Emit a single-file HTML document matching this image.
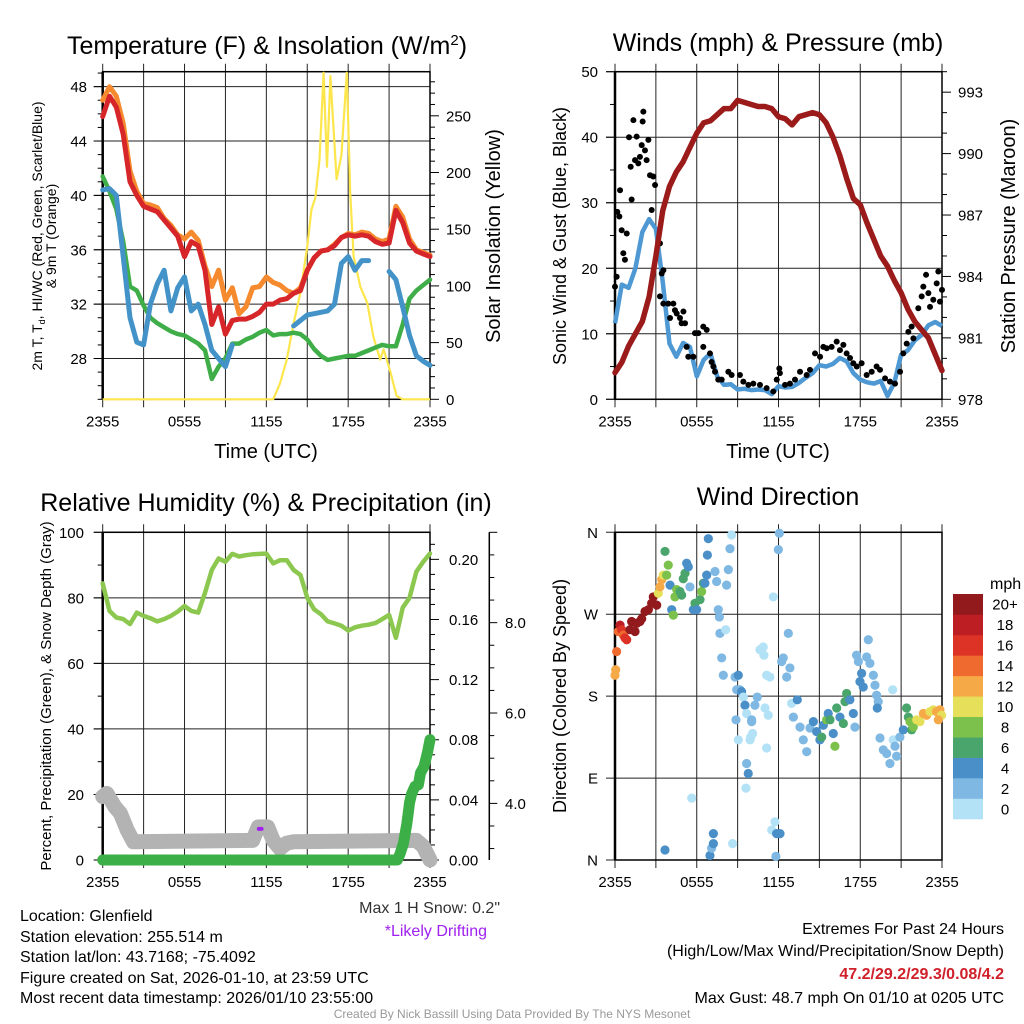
<!DOCTYPE html>
<html><head><meta charset="utf-8"><style>
html,body{margin:0;padding:0;background:#fff;}
svg{display:block;font-family:"Liberation Sans",sans-serif;}
</style></head><body>
<svg id="chart" width="1024" height="1024" viewBox="0 0 1024 1024" xmlns="http://www.w3.org/2000/svg">
<rect x="0" y="0" width="1024" height="1024" fill="#fff"/>
<g id="layer"></g>
<!-- titles -->
<text x="267" y="54" font-size="25" text-anchor="middle">Temperature (F) &amp; Insolation (W/m<tspan dy="-9" font-size="15">2</tspan><tspan dy="9">)</tspan></text>
<text x="778" y="51" font-size="25" text-anchor="middle">Winds (mph) &amp; Pressure (mb)</text>
<text x="266" y="511" font-size="25" text-anchor="middle">Relative Humidity (%) &amp; Precipitation (in)</text>
<text x="778" y="505" font-size="25" text-anchor="middle">Wind Direction</text>
<!-- axis titles -->
<text x="266" y="458" font-size="20" text-anchor="middle">Time (UTC)</text>
<text x="778" y="458" font-size="20" text-anchor="middle">Time (UTC)</text>
<text transform="translate(42,236) rotate(-90)" font-size="14" text-anchor="middle">2m T, T<tspan dy="3" font-size="9">d</tspan><tspan dy="-3">, HI/WC (Red, Green, Scarlet/Blue)</tspan></text>
<text transform="translate(56,236) rotate(-90)" font-size="14" text-anchor="middle">&amp; 9m T (Orange)</text>
<text transform="translate(500,236) rotate(-90)" font-size="20" text-anchor="middle">Solar Insolation (Yellow)</text>
<text transform="translate(566,236) rotate(-90)" font-size="18" text-anchor="middle">Sonic Wind &amp; Gust (Blue, Black)</text>
<text transform="translate(1015,236) rotate(-90)" font-size="20" text-anchor="middle">Station Pressure (Maroon)</text>
<text transform="translate(51,696) rotate(-90)" font-size="15" text-anchor="middle">Percent, Precipitation (Green), &amp; Snow Depth (Gray)</text>
<text transform="translate(566,696) rotate(-90)" font-size="18" text-anchor="middle">Direction (Colored By Speed)</text>
<text x="990" y="589" font-size="16">mph</text>
<!-- footer texts -->
<g font-size="16" fill="#000">
<text x="20" y="921">Location: Glenfield</text>
<text x="20" y="942">Station elevation: 255.514 m</text>
<text x="20" y="962">Station lat/lon: 43.7168; -75.4092</text>
<text x="20" y="983">Figure created on Sat, 2026-01-10, at 23:59 UTC</text>
<text x="20" y="1003">Most recent data timestamp: 2026/01/10 23:55:00</text>
<text x="500" y="913" text-anchor="end" fill="#333">Max 1 H Snow: 0.2"</text>
<text x="487" y="936" text-anchor="end" fill="#a020f0">*Likely Drifting</text>
<text x="1004" y="934" text-anchor="end">Extremes For Past 24 Hours</text>
<text x="1004" y="956" text-anchor="end">(High/Low/Max Wind/Precipitation/Snow Depth)</text>
<text x="1004" y="979" text-anchor="end" fill="#d0202a" font-weight="bold">47.2/29.2/29.3/0.08/4.2</text>
<text x="1004" y="1003" text-anchor="end">Max Gust: 48.7 mph On 01/10 at 0205 UTC</text>
</g>
<text x="512" y="1018" font-size="12" text-anchor="middle" fill="#999">Created By Nick Bassill Using Data Provided By The NYS Mesonet</text>
</svg>
<script>
// ---- data ----
const timeLabels = ["2355","0555","1155","1755","2355"];
const halfHours = Array.from({length:49},(_,i)=>i*0.5);
const tempRed = [45.8,47.3,46.5,44.5,41.0,40.0,39.2,39.0,38.8,38.2,37.6,37.0,35.5,36.6,36.3,34.5,30.5,31.8,29.8,30.8,30.9,30.9,31.1,31.4,32.0,32.0,32.3,32.4,32.8,33.0,34.5,35.4,35.9,36.0,36.3,36.9,37.1,37.0,37.1,37.0,36.6,36.4,36.5,38.9,38.0,36.5,35.9,35.7,35.5];
const tempOrange = [47.0,48.0,47.3,45.3,41.8,40.3,39.4,39.3,39.1,38.3,37.8,37.1,36.8,37.3,36.7,34.8,33.3,34.5,32.3,33.2,31.3,31.8,33.2,33.3,34.0,33.6,33.4,33.0,32.8,33.2,34.5,35.4,35.9,36.0,36.4,36.9,37.2,37.1,37.3,37.2,36.8,36.6,36.8,39.2,38.4,36.8,36.0,35.8,35.6];
const dewGreen = [41.4,40.3,39.0,36.6,33.3,33.0,31.9,31.0,30.6,30.3,30.0,29.8,29.7,29.4,29.1,28.6,26.5,27.4,28.0,29.1,29.1,29.4,29.6,29.9,30.1,29.7,29.8,29.8,29.9,29.8,29.4,28.7,28.2,27.9,28.0,28.1,28.2,28.2,28.4,28.6,28.8,29.0,28.9,28.9,30.5,32.4,33.0,33.4,33.8];
const windChillBlue = [40.4,40.5,40.0,35.5,31.0,29.2,29.0,32.0,33.5,34.5,31.5,33.2,34.0,31.5,32.0,30.5,28.6,28.0,27.4,29.0,null,null,null,null,null,null,null,null,30.4,30.8,31.2,31.3,31.4,31.5,32.0,35.0,35.5,34.5,35.2,35.2,null,null,34.4,33.8,31.8,29.7,28.2,27.8,27.5];
const solarHours = [0,12.5,13.0,13.5,14.0,14.5,15.0,15.3,15.6,15.9,16.2,16.45,16.7,17.15,17.5,17.9,18.15,18.4,18.9,19.4,19.85,20.35,20.6,21.05,21.55,22,24];
const solarValues = [0,0,14,35,67,94,135,167,178,211,288,205,285,194,215,288,182,126,99,85,55,35,44,26,3,0,0];
const pressure = [979.3,979.8,980.6,981.2,981.8,983.0,985.0,987.2,988.4,989.1,989.6,990.3,991.0,991.5,991.6,991.9,992.2,992.2,992.6,992.5,992.4,992.3,992.3,992.2,991.8,991.7,991.4,991.8,991.9,992.0,991.9,991.5,990.8,989.9,988.8,987.8,987.5,986.6,985.8,985.0,984.5,983.8,983.2,982.4,981.8,981.4,981.0,980.2,979.4];
const windSpeed = [11.6,17.5,17.0,20.0,25.5,27.5,26.0,18.0,8.5,6.5,8.6,8.0,3.5,6.0,7.0,3.5,2.2,2.3,1.5,1.6,1.4,1.5,1.4,0.8,2.0,1.8,1.9,2.5,3.3,4.0,5.2,5.0,5.4,6.3,5.8,4.0,3.0,2.6,2.4,2.8,0.5,2.5,6.8,7.5,9.0,9.8,11.3,11.8,11.2];
const gustHours = [0,0.12,0.17,0.32,0.37,0.49,0.61,0.73,0.86,1.03,1.15,1.22,1.35,1.47,1.59,1.71,1.83,1.96,2.03,2.08,2.2,2.32,2.45,2.57,2.81,2.94,2.69,3.3,3.43,3.55,3.3,3.55,3.91,4.04,4.28,4.4,4.53,4.77,4.89,5.02,5.14,5.26,5.38,5.75,5.87,6.12,6.48,6.73,6.48,6.97,7.09,7.22,7.34,7.58,7.83,8.32,8.56,9.17,9.42,9.79,10.15,10.64,11.13,11.62,11.87,12.06,12.1,12.48,12.84,13.21,13.58,14.07,14.31,14.68,15.05,15.29,15.54,15.9,16.27,16.51,16.76,17,17.25,17.49,17.74,18.1,18.47,18.84,19.2,19.45,19.82,20.18,20.55,20.92,21.16,21.41,21.53,21.77,21.9,22.26,22.51,22.63,22.83,23,23.12,23.36,23.61,23.73,23.85,24];
const gustValues = [17.2,18.7,28.6,27.9,31.9,25.8,22.3,21.3,25.3,40,35.5,30.5,42.6,36.5,40.1,36,37,38.8,42.4,43.9,38,36.5,39.6,34.2,34,32.7,28.9,23.8,19.2,19.7,15.7,14.6,14.6,12.4,14.6,13.6,13.1,12.4,11.6,13.4,11.6,8,6.5,6.5,10.1,10.1,11.1,10.6,8,7,5.7,5,4.2,3,3,4.2,3.7,3.7,2.7,2.2,2.4,2.2,1.7,1.2,3,4.7,4,2.2,2.4,3,4.2,3.7,4.5,7,6.5,8,7.8,8,8.8,7.5,8.3,7,6.3,5.5,5,5.5,3.7,4.2,5,4.5,3.2,2.7,2.4,4.2,7,8.5,10.3,11.1,9.3,13.9,15.7,17.2,19,16.2,14.1,15.2,17.7,19.5,14.9,16.7];
const rhValues = [84.4,76.0,74.0,73.5,72.0,75.5,74.5,73.8,72.8,73.5,74.5,75.8,77.5,76.0,75.5,81.5,88.5,92.0,91.0,93.4,92.6,93.0,93.3,93.4,93.5,90.5,91.5,91.5,88.5,87.0,80.0,76.5,75.0,72.8,72.2,71.5,70.0,71.0,71.5,71.8,72.3,73.5,74.8,67.8,77.0,80.0,88.0,91.0,93.5];
const precipHours = [0,21.6,21.8,22.05,22.3,22.4,22.5,22.65,22.9,23.15,23.3,23.55,23.8,24];
const precipValues = [0,0,0.004,0.011,0.024,0.031,0.038,0.044,0.049,0.05,0.058,0.062,0.071,0.08];
const snowHours = [0,0.3,0.9,1.3,1.8,2.25,11.0,11.4,12.1,12.5,13.0,13.5,14.0,23.0,23.5,23.75,24];
const snowValues = [4.15,4.22,3.92,3.78,3.41,3.15,3.18,3.48,3.48,3.18,3.0,3.12,3.15,3.18,3.05,2.9,2.75];
const driftHours = [11.45,11.65];
const driftValues = [9.5,9.5];
const dirHours = [0,0.05,0.12,0.24,0.37,0.49,0.61,0.73,0.86,1.10,1.22,1.47,1.59,1.83,1.96,2.20,2.45,2.69,2.81,3.06,3.18,3.30,3.43,3.55,3.67,3.79,3.91,4.04,4.16,4.28,4.40,4.53,4.77,4.89,5.01,5.14,5.26,5.38,5.50,5.75,5.87,5.99,6.24,6.36,6.48,6.60,6.73,6.78,6.85,7.34,7.46,7.58,7.66,7.70,7.83,7.95,8.12,8.19,8.32,8.44,8.56,8.81,9.05,8.93,9.17,9.29,9.42,9.54,9.66,10.03,10.27,10.44,10.64,10.88,10.93,11.13,11.37,11.62,11.99,12.06,12.23,12.35,12.60,12.84,12.72,12.96,13.09,13.38,13.58,13.82,14.07,14.31,14.56,14.80,15.04,15.17,15.29,15.53,15.65,15.78,16.02,16.14,16.27,16.51,16.76,16.88,17.00,17.24,17.49,17.61,17.73,17.86,17.98,18.10,18.22,18.47,18.59,18.71,18.96,19.08,19.20,19.32,19.25,19.45,19.69,19.94,20.18,20.38,20.42,20.55,20.67,20.91,21.16,21.40,21.53,21.65,21.77,21.89,22.14,22.38,22.63,22.87,23.12,23.36,23.60,23.85,23.97,23.73,3.67,5.63,6.97,7.09,7.22,7.22,8.63,9.66,9.78,9.61,11.13,11.74,11.50,11.86,12.11,11.81,8.88,9.05,9.96,10.10,11.01,11.25,9.91,10.03];
const dirDegrees = [203,209,229,251,258,253,247,244,242,253,262,251,260,262,265,273,275,282,289,280,293,300,308,313,339,313,324,302,275,269,289,297,295,291,309,315,326,322,300,275,282,275,286,295,304,304,313,335,353,317,306,275,267,249,222,203,253,302,319,342,357,201,203,187,187,185,179,170,161,154,170,179,231,234,225,203,201,289,341,359,218,222,201,211,249,172,157,176,146,132,119,145,152,141,132,135,148,154,161,154,139,125,167,157,150,174,183,176,161,146,225,218,196,205,190,223,242,216,203,192,181,174,167,134,121,117,106,187,132,125,114,135,143,167,157,152,143,146,154,152,161,159,163,165,163,165,159,154,11,68,5,13,18,29,18,106,95,79,123,42,33,29,29,4,154,132,135,139,167,159,132,152];
const dirSpeedBins = [6,6,7,7,9,8,7,8,8,10,10,10,10,10,10,10,10,10,10,10,5,6,6,5,3,4,4,2,2,4,4,4,3,3,3,3,2,2,1,2,3,2,3,4,3,2,2,2,2,1,1,1,1,1,1,1,0,1,1,1,0,1,2,1,1,2,0,2,0,1,1,1,0,0,0,0,0,0,1,1,1,1,1,1,1,0,1,2,1,1,1,1,2,2,2,3,2,4,2,3,2,4,3,2,3,3,3,2,2,1,1,1,2,2,2,1,1,1,1,1,1,1,2,1,1,1,1,0,0,1,1,1,2,3,3,4,3,4,5,5,6,6,5,5,6,6,5,6,2,0,2,1,2,2,0,1,2,0,0,0,0,2,2,1,1,0,0,0,0,0,0,1];
const speedColors = ["#b3e2f7","#7fb9e3","#4a8fc7","#4aa56c","#7cc14b","#e5df5a","#f6a947","#ef6a2e","#dd3327","#bd1e24","#921a1c"];
const speedLabels = ["0","2","4","6","8","10","12","14","16","18","20+"];
const dirLabels = ["N","E","S","W","N"];

// ---- helpers ----
const NS="http://www.w3.org/2000/svg";
const layer=document.getElementById('layer');
function mk(tag,attrs,parent){const e=document.createElementNS(NS,tag);for(const k in attrs)e.setAttribute(k,attrs[k]);(parent||layer).appendChild(e);return e;}
const P1={x0:102.7,x1:430,y0:71.7,y1:399.3};
const P2={x0:615,x1:942,y0:71.7,y1:399.3};
const P3={x0:102.7,x1:430,y0:532.3,y1:860};
const P4={x0:615,x1:942,y0:532.3,y1:860};
function xAt(p,h){return p.x0+(p.x1-p.x0)*h/24;}
function yAt(p,v,lo,hi){return p.y1-(v-lo)/(hi-lo)*(p.y1-p.y0);}
function linePath(p,hours,vals,lo,hi){let d="",pen=false;for(let i=0;i<vals.length;i++){if(vals[i]===null){pen=false;continue;}d+=(pen?"L":"M")+xAt(p,hours[i]).toFixed(1)+" "+yAt(p,vals[i],lo,hi).toFixed(1);pen=true;}return d;}

function frame(p,name,gridVals,lo,hi){
  const g=mk('g',{});
  
  
  for(let h=0;h<=24;h+=3){
    const x=xAt(p,h);
    const v=mk('line',{x1:x,x2:x,y1:p.y0-8,y2:p.y1+8,stroke:'#222','stroke-width':1},g);
    
    
  }
  gridVals.forEach(val=>{
    const y=yAt(p,val,lo,hi);
    const l=mk('line',{x1:p.x0-9,x2:p.x1,y1:y,y2:y,stroke:'#222','stroke-width':1},g);
    
    
  });
  const b=mk('rect',{x:p.x0,y:p.y0,width:p.x1-p.x0,height:p.y1-p.y0,fill:'none',stroke:'#000','stroke-width':1.5},g);
  
  
  const lb=mk('line',{x1:p.x0,x2:p.x0,y1:p.y0,y2:p.y1,stroke:'#000','stroke-width':2.5},g);
  
  
  timeLabels.forEach((t,i)=>{
    const tx=mk('text',{x:xAt(p,i*6),y:p.y1+27,'font-size':15,'text-anchor':'middle'},g);
    tx.textContent=t;
    
    
  });
}
function yTicks(p,name,side,lo,hi,major,minor,fmt,labelX,anchor){
  const g=mk('g',{});
  
  
  const ax=side==='left'?p.x0:p.x1, dir=side==='left'?-1:1;
  for(let v=Math.ceil(lo/minor)*minor;v<=hi+1e-9;v+=minor){
    const y=yAt(p,v,lo,hi);
    const isMaj=Math.abs(v/major-Math.round(v/major))<1e-6;
    const t=mk('line',{x1:ax,x2:ax+dir*(isMaj?9:5),y1:y,y2:y,stroke:'#000','stroke-width':1},g);
    
    
    if(isMaj&&fmt){
      const tx=mk('text',{x:labelX,y:y+5.5,'font-size':15,'text-anchor':anchor},g);
      tx.textContent=fmt(v);
      
      
    }
  }
}

// ---- panel 1 ----
frame(P1,'temperature',[28,32,36,40,44,48],25,49.1);
yTicks(P1,'temperature-left-ticks','left',25,49.1,4,1,v=>String(Math.round(v)),87,'end');
yTicks(P1,'solar-right-ticks','right',0,288.9,50,10,v=>String(Math.round(v)),446,'start');
const sol=mk('path',{d:linePath(P1,solarHours,solarValues,0,288.9),fill:'none',stroke:'#fde64b','stroke-width':2.2,'stroke-linejoin':'round'});


const or=mk('path',{d:linePath(P1,halfHours,tempOrange,25,49.1),fill:'none',stroke:'#f58a2f','stroke-width':5,'stroke-linejoin':'round','stroke-linecap':'round'});


const gr=mk('path',{d:linePath(P1,halfHours,dewGreen,25,49.1),fill:'none',stroke:'#3fae49','stroke-width':4.5,'stroke-linejoin':'round','stroke-linecap':'round'});


const bl=mk('path',{d:linePath(P1,halfHours,windChillBlue,25,49.1),fill:'none',stroke:'#4393c9','stroke-width':5,'stroke-linejoin':'round','stroke-linecap':'round'});


const rd=mk('path',{d:linePath(P1,halfHours,tempRed,25,49.1),fill:'none',stroke:'#d7262a','stroke-width':5,'stroke-linejoin':'round','stroke-linecap':'round'});



// ---- panel 2 ----
frame(P2,'winds',[0,10,20,30,40,50],0,50);
yTicks(P2,'wind-left-ticks','left',0,50,10,5,v=>String(Math.round(v)),598,'end');
yTicks(P2,'pressure-right-ticks','right',978,994,3,1,v=>String(Math.round(v)),958,'start');
const ws=mk('path',{d:linePath(P2,halfHours,windSpeed,0,50),fill:'none',stroke:'#4e98d3','stroke-width':4.5,'stroke-linejoin':'round'});


gustValues.forEach((v,i)=>{
  const c=mk('circle',{cx:xAt(P2,gustHours[i]),cy:yAt(P2,v,0,50),r:3,fill:'#000'});
  
  
});
const pr=mk('path',{d:linePath(P2,halfHours,pressure,978,994),fill:'none',stroke:'#9b1b1b','stroke-width':5.5,'stroke-linejoin':'round','stroke-linecap':'round'});



// ---- panel 3 ----
frame(P3,'humidity',[0,20,40,60,80,100],0,100);
yTicks(P3,'humidity-left-ticks','left',0,100,20,10,v=>String(Math.round(v)),84,'end');
yTicks(P3,'precip-right-ticks','right',0,0.218,0.04,0.01,v=>v.toFixed(2),449,'start');
const sx=489.3;
const sax=mk('line',{x1:sx,x2:sx,y1:P3.y0,y2:P3.y1,stroke:'#000','stroke-width':1.5});


for(let v=3;v<=10;v+=0.5){
  const y=yAt(P3,v,2.747,10);
  const maj=Math.abs(v%2)<1e-6;
  const t=mk('line',{x1:sx,x2:sx+(maj?8:5),y1:y,y2:y,stroke:'#000','stroke-width':1});
  
  
  if(maj&&v>=4&&v<=8){
    const tx=mk('text',{x:505,y:y+5.5,'font-size':15});
    tx.textContent=v.toFixed(1);
    
    
  }
}
const rh=mk('path',{d:linePath(P3,halfHours,rhValues,0,100),fill:'none',stroke:'#8cc850','stroke-width':4.5,'stroke-linejoin':'round','stroke-linecap':'round'});


const sn=mk('path',{d:linePath(P3,snowHours,snowValues,2.747,10),fill:'none',stroke:'#b3b3b3','stroke-width':15,'stroke-linejoin':'round','stroke-linecap':'round'});


const dr=mk('path',{d:linePath(P3,driftHours,driftValues,0,100),fill:'none',stroke:'#a020f0','stroke-width':4,'stroke-linecap':'round'});


const pc=mk('path',{d:linePath(P3,precipHours,precipValues,0,0.218),fill:'none',stroke:'#3daf47','stroke-width':11,'stroke-linejoin':'round','stroke-linecap':'round'});



// ---- panel 4 ----
frame(P4,'direction',[0,90,180,270,360],0,360);
dirLabels.forEach((t,i)=>{
  const tx=mk('text',{x:598,y:yAt(P4,i*90,0,360)+5.5,'font-size':15,'text-anchor':'end'});
  tx.textContent=t;
  
  
});
dirDegrees.forEach((d,i)=>{
  const c=mk('circle',{cx:xAt(P4,dirHours[i]),cy:yAt(P4,d,0,360),r:4.6,fill:speedColors[dirSpeedBins[i]]});
  
  
});
speedColors.forEach((col,i)=>{
  const h=225/11, y=819-(i+1)*h;
  const r=mk('rect',{x:953,y:y,width:30,height:h+0.3,fill:col});
  
  
  const tx=mk('text',{x:1005,y:y+h/2+5.5,'font-size':15,'text-anchor':'middle'});
  tx.textContent=speedLabels[i];
  
  
});
</script>
</body></html>
